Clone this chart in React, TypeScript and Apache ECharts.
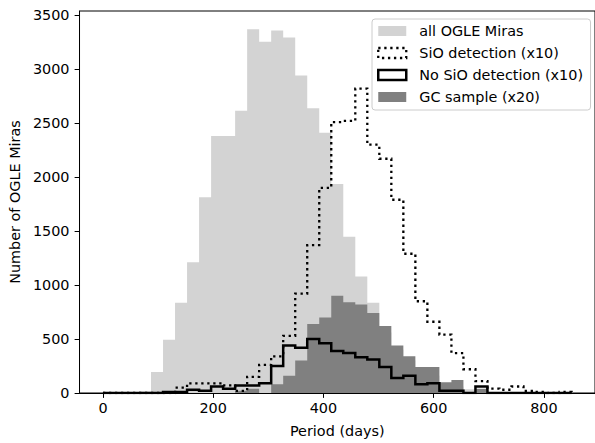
import React, { useEffect, useRef } from "react";
import * as echarts from "echarts";

// Histogram bins (days)
const binStart = 0;
const binWidth = 21.8;

// Counts per bin (bin i covers [binStart + i*binWidth, binStart + (i+1)*binWidth])
const allOgleMiras = [0, 0, 0, 15, 195, 494, 836, 1211, 1813, 2381, 2381, 2615, 3370, 3254, 3357, 3293, 2942, 2637, 2411, 1935, 1447, 1080, 836, 560, 400, 300, 210, 160, 80, 60, 35, 20, 10, 5, 5, 0, 0, 0, 0];
const sioDetection = [0, 0, 0, 0, 0, 0, 50, 90, 90, 90, 70, 20, 150, 260, 340, 530, 920, 1370, 1900, 2510, 2520, 2820, 2300, 2170, 1790, 1290, 850, 660, 540, 370, 220, 110, 40, 30, 60, 20, 10, 0, 10];
const noSioDetection = [0, 0, 0, 0, 0, 10, 10, 30, 20, 60, 40, 70, 70, 90, 250, 440, 420, 500, 460, 390, 370, 330, 310, 240, 140, 160, 80, 90, 20, 20, 0, 60, 0, 0, 0, 0, 0, 0, 0];
const gcSample = [0, 0, 0, 0, 0, 0, 0, 0, 0, 0, 0, 20, 40, 0, 80, 160, 300, 640, 700, 900, 840, 820, 740, 620, 440, 340, 240, 240, 100, 120, 0, 40, 0, 0, 0, 0, 0, 0, 0];

const seriesNames = ["all OGLE Miras", "SiO detection (x10)", "No SiO detection (x10)", "GC sample (x20)"];
const xTicks = [0, 200, 400, 600, 800];
const yTicks = [0, 500, 1000, 1500, 2000, 2500, 3000, 3500];

const FONT = "DejaVu Sans";
const FS = 14.4;

function stepPoints(counts: number[]) {
  const pts: number[][] = [[binStart, 0]];
  counts.forEach((c, i) => {
    const a = binStart + i * binWidth;
    pts.push([a, c], [a + binWidth, c]);
  });
  pts.push([binStart + counts.length * binWidth, 0]);
  return pts;
}

export default function App() {
  const ref = useRef<HTMLDivElement>(null);

  useEffect(() => {
    if (!ref.current) return;
    const chart = echarts.init(ref.current, undefined, { renderer: "svg" });

    const lo = binStart;
    const hi = binStart + allOgleMiras.length * binWidth;
    const pad = 0.05 * (hi - lo);
    const yMax = 1.05 * Math.max(...allOgleMiras);

    const dotted = [2.3, 3.7];
    const plain = (v: number) => String(Math.round(v));

    chart.setOption({
      animation: false,
      textStyle: { fontFamily: FONT },
      grid: {
        left: 77.5,
        right: -1,
        top: 11,
        bottom: 45.7,
        show: true,
        borderColor: "#000",
        borderWidth: 1,
        backgroundColor: "transparent",
      },
      legend: {
        orient: "vertical",
        left: 372,
        top: 19,
        padding: [5, 7.5, 6, 5],
        itemWidth: 28,
        itemHeight: 10,
        itemGap: 8,
        backgroundColor: "rgba(255,255,255,0.8)",
        borderColor: "#cccccc",
        borderWidth: 1,
        borderRadius: 3,
        selectedMode: false,
        textStyle: {
          fontFamily: FONT,
          fontSize: FS,
          color: "#000",
          lineHeight: 14,
          padding: [0, 0, 0, 8],
        },
        data: [
          { name: seriesNames[0], icon: "rect", itemStyle: { color: "#d3d3d3", borderWidth: 0 } },
          {
            name: seriesNames[1],
            icon: "rect",
            itemStyle: { color: "transparent", borderColor: "#000", borderWidth: 2.3, borderType: dotted },
          },
          {
            name: seriesNames[2],
            icon: "rect",
            itemStyle: { color: "#fff", borderColor: "#000", borderWidth: 2.5, borderType: "solid" },
          },
          { name: seriesNames[3], icon: "rect", itemStyle: { color: "#808080", borderWidth: 0 } },
        ],
      },
      xAxis: {
        type: "value",
        min: lo - pad,
        max: hi + pad,
        name: "Period (days)",
        nameLocation: "middle",
        nameGap: 31,
        nameTextStyle: { fontFamily: FONT, fontSize: FS, color: "#000" },
        axisLine: { show: true, onZero: false, lineStyle: { color: "#000", width: 1 } },
        axisTick: { show: true, length: 4.9, lineStyle: { color: "#000", width: 1 }, customValues: xTicks },
        axisLabel: { fontFamily: FONT, fontSize: FS, color: "#000", margin: 8, customValues: xTicks, formatter: plain },
        splitLine: { show: false },
      },
      yAxis: {
        type: "value",
        min: 0,
        max: yMax,
        name: "Number of OGLE Miras",
        nameLocation: "middle",
        nameGap: 52,
        nameTextStyle: { fontFamily: FONT, fontSize: FS, color: "#000" },
        axisLine: { show: true, onZero: false, lineStyle: { color: "#000", width: 1 } },
        axisTick: { show: true, length: 4.9, lineStyle: { color: "#000", width: 1 }, customValues: yTicks },
        axisLabel: { fontFamily: FONT, fontSize: FS, color: "#000", margin: 10, customValues: yTicks, formatter: plain },
        splitLine: { show: false },
      },
      series: [
        {
          name: seriesNames[0],
          type: "line",
          data: stepPoints(allOgleMiras),
          showSymbol: false,
          symbol: "none",
          silent: true,
          lineStyle: { width: 0, color: "#d3d3d3" },
          itemStyle: { color: "#d3d3d3" },
          areaStyle: { color: "#d3d3d3", opacity: 1 },
          z: 1,
        },
        {
          name: seriesNames[3],
          type: "line",
          data: stepPoints(gcSample),
          showSymbol: false,
          symbol: "none",
          silent: true,
          lineStyle: { width: 0, color: "#808080" },
          itemStyle: { color: "#808080" },
          areaStyle: { color: "#808080", opacity: 1 },
          z: 2,
        },
        {
          name: seriesNames[1],
          type: "line",
          data: stepPoints(sioDetection),
          showSymbol: false,
          symbol: "none",
          silent: true,
          lineStyle: { width: 2.3, color: "#000", type: dotted, cap: "butt", join: "miter" },
          itemStyle: { color: "#000" },
          z: 3,
        },
        {
          name: seriesNames[2],
          type: "line",
          data: stepPoints(noSioDetection),
          showSymbol: false,
          symbol: "none",
          silent: true,
          lineStyle: { width: 2.5, color: "#000", type: "solid", cap: "butt", join: "miter" },
          itemStyle: { color: "#000" },
          z: 4,
        },
      ],
    });

    return () => chart.dispose();
  }, []);

  return (
    <div
      ref={ref}
      style={{ position: "absolute", left: 0, top: 0, width: 595, height: 443, background: "#fff" }}
    />
  );
}
